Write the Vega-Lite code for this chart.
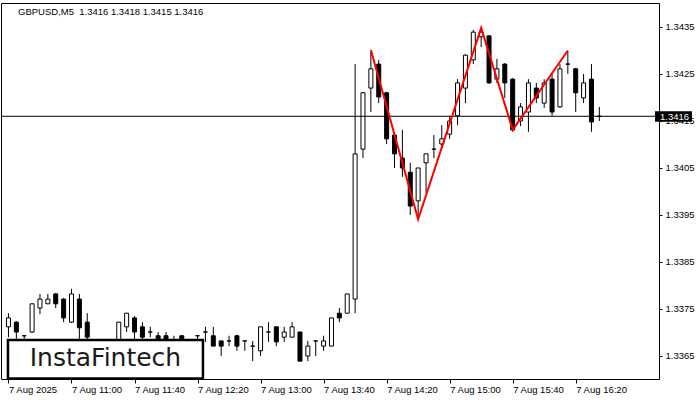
{
  "$schema": "https://vega.github.io/schema/vega-lite/v6.json",
  "width": 658,
  "height": 376,
  "autosize": "none",
  "padding": {"left": 1, "top": 3, "right": 41, "bottom": 21},
  "background": "white",
  "config": {
    "view": {"stroke": "black", "strokeWidth": 1},
    "font": "Liberation Sans"
  },
  "title": {
    "text": "GBPUSD,M5\u00a0 1.3416 1.3418 1.3415 1.3416",
    "anchor": "start",
    "frame": "group",
    "orient": "top",
    "offset": -13,
    "dx": 17,
    "fontSize": 9.5,
    "font": "Liberation Sans",
    "fontWeight": "normal",
    "color": "black"
  },
  "datasets": {
    "candles": [
      {"t": "2025-08-07T10:20:00", "o": 1.33712, "h": 1.33741, "l": 1.33690, "c": 1.33731},
      {"t": "2025-08-07T10:25:00", "o": 1.33722, "h": 1.33724, "l": 1.33684, "c": 1.33701},
      {"t": "2025-08-07T10:30:00", "o": 1.33693, "h": 1.33693, "l": 1.33680, "c": 1.33693},
      {"t": "2025-08-07T10:35:00", "o": 1.33701, "h": 1.33761, "l": 1.33699, "c": 1.33761},
      {"t": "2025-08-07T10:40:00", "o": 1.33752, "h": 1.33782, "l": 1.33739, "c": 1.33771},
      {"t": "2025-08-07T10:45:00", "o": 1.33761, "h": 1.33782, "l": 1.33761, "c": 1.33771},
      {"t": "2025-08-07T10:50:00", "o": 1.33782, "h": 1.33784, "l": 1.33752, "c": 1.33761},
      {"t": "2025-08-07T10:55:00", "o": 1.33771, "h": 1.33773, "l": 1.33722, "c": 1.33731},
      {"t": "2025-08-07T11:00:00", "o": 1.33722, "h": 1.33793, "l": 1.33720, "c": 1.33782},
      {"t": "2025-08-07T11:05:00", "o": 1.33771, "h": 1.33782, "l": 1.33665, "c": 1.33710},
      {"t": "2025-08-07T11:10:00", "o": 1.33722, "h": 1.33741, "l": 1.33670, "c": 1.33690},
      {"t": "2025-08-07T11:15:00", "o": 1.33675, "h": 1.33680, "l": 1.33655, "c": 1.33665},
      {"t": "2025-08-07T11:20:00", "o": 1.33665, "h": 1.33678, "l": 1.33650, "c": 1.33672},
      {"t": "2025-08-07T11:25:00", "o": 1.33672, "h": 1.33680, "l": 1.33660, "c": 1.33676},
      {"t": "2025-08-07T11:30:00", "o": 1.33676, "h": 1.33722, "l": 1.33670, "c": 1.33722},
      {"t": "2025-08-07T11:35:00", "o": 1.33712, "h": 1.33741, "l": 1.33701, "c": 1.33741},
      {"t": "2025-08-07T11:40:00", "o": 1.33731, "h": 1.33735, "l": 1.33675, "c": 1.33701},
      {"t": "2025-08-07T11:45:00", "o": 1.33712, "h": 1.33722, "l": 1.33675, "c": 1.33690},
      {"t": "2025-08-07T11:50:00", "o": 1.33701, "h": 1.33712, "l": 1.33690, "c": 1.33701},
      {"t": "2025-08-07T11:55:00", "o": 1.33693, "h": 1.33701, "l": 1.33670, "c": 1.33678},
      {"t": "2025-08-07T12:00:00", "o": 1.33693, "h": 1.33701, "l": 1.33668, "c": 1.33678},
      {"t": "2025-08-07T12:05:00", "o": 1.33680, "h": 1.33693, "l": 1.33665, "c": 1.33675},
      {"t": "2025-08-07T12:10:00", "o": 1.33693, "h": 1.33693, "l": 1.33670, "c": 1.33678},
      {"t": "2025-08-07T12:15:00", "o": 1.33678, "h": 1.33682, "l": 1.33665, "c": 1.33680},
      {"t": "2025-08-07T12:20:00", "o": 1.33693, "h": 1.33693, "l": 1.33675, "c": 1.33693},
      {"t": "2025-08-07T12:25:00", "o": 1.33701, "h": 1.33712, "l": 1.33680, "c": 1.33701},
      {"t": "2025-08-07T12:30:00", "o": 1.33693, "h": 1.33712, "l": 1.33671, "c": 1.33671},
      {"t": "2025-08-07T12:35:00", "o": 1.33682, "h": 1.33682, "l": 1.33650, "c": 1.33671},
      {"t": "2025-08-07T12:40:00", "o": 1.33682, "h": 1.33693, "l": 1.33671, "c": 1.33682},
      {"t": "2025-08-07T12:45:00", "o": 1.33693, "h": 1.33695, "l": 1.33661, "c": 1.33671},
      {"t": "2025-08-07T12:50:00", "o": 1.33682, "h": 1.33682, "l": 1.33661, "c": 1.33682},
      {"t": "2025-08-07T12:55:00", "o": 1.33671, "h": 1.33682, "l": 1.33639, "c": 1.33671},
      {"t": "2025-08-07T13:00:00", "o": 1.33661, "h": 1.33712, "l": 1.33650, "c": 1.33712},
      {"t": "2025-08-07T13:05:00", "o": 1.33701, "h": 1.33722, "l": 1.33680, "c": 1.33701},
      {"t": "2025-08-07T13:10:00", "o": 1.33712, "h": 1.33712, "l": 1.33671, "c": 1.33680},
      {"t": "2025-08-07T13:15:00", "o": 1.33690, "h": 1.33712, "l": 1.33680, "c": 1.33701},
      {"t": "2025-08-07T13:20:00", "o": 1.33690, "h": 1.33722, "l": 1.33690, "c": 1.33712},
      {"t": "2025-08-07T13:25:00", "o": 1.33701, "h": 1.33701, "l": 1.33639, "c": 1.33639},
      {"t": "2025-08-07T13:30:00", "o": 1.33650, "h": 1.33682, "l": 1.33639, "c": 1.33671},
      {"t": "2025-08-07T13:35:00", "o": 1.33682, "h": 1.33682, "l": 1.33650, "c": 1.33682},
      {"t": "2025-08-07T13:40:00", "o": 1.33671, "h": 1.33693, "l": 1.33661, "c": 1.33682},
      {"t": "2025-08-07T13:45:00", "o": 1.33671, "h": 1.33731, "l": 1.33671, "c": 1.33731},
      {"t": "2025-08-07T13:50:00", "o": 1.33741, "h": 1.33752, "l": 1.33722, "c": 1.33731},
      {"t": "2025-08-07T13:55:00", "o": 1.33741, "h": 1.33782, "l": 1.33741, "c": 1.33782},
      {"t": "2025-08-07T14:00:00", "o": 1.33771, "h": 1.34271, "l": 1.33741, "c": 1.34080},
      {"t": "2025-08-07T14:05:00", "o": 1.34090, "h": 1.34212, "l": 1.34071, "c": 1.34210},
      {"t": "2025-08-07T14:10:00", "o": 1.34220, "h": 1.34297, "l": 1.34169, "c": 1.34261},
      {"t": "2025-08-07T14:15:00", "o": 1.34271, "h": 1.34280, "l": 1.34188, "c": 1.34201},
      {"t": "2025-08-07T14:20:00", "o": 1.34210, "h": 1.34212, "l": 1.34101, "c": 1.34112},
      {"t": "2025-08-07T14:25:00", "o": 1.34120, "h": 1.34125, "l": 1.34050, "c": 1.34080},
      {"t": "2025-08-07T14:30:00", "o": 1.34071, "h": 1.34131, "l": 1.34031, "c": 1.34050},
      {"t": "2025-08-07T14:35:00", "o": 1.34041, "h": 1.34061, "l": 1.33950, "c": 1.33969},
      {"t": "2025-08-07T14:40:00", "o": 1.33980, "h": 1.34050, "l": 1.33945, "c": 1.34050},
      {"t": "2025-08-07T14:45:00", "o": 1.34061, "h": 1.34080, "l": 1.33997, "c": 1.34080},
      {"t": "2025-08-07T14:50:00", "o": 1.34090, "h": 1.34120, "l": 1.34071, "c": 1.34090},
      {"t": "2025-08-07T14:55:00", "o": 1.34101, "h": 1.34141, "l": 1.34090, "c": 1.34112},
      {"t": "2025-08-07T15:00:00", "o": 1.34122, "h": 1.34161, "l": 1.34112, "c": 1.34150},
      {"t": "2025-08-07T15:05:00", "o": 1.34161, "h": 1.34239, "l": 1.34141, "c": 1.34231},
      {"t": "2025-08-07T15:10:00", "o": 1.34220, "h": 1.34292, "l": 1.34188, "c": 1.34290},
      {"t": "2025-08-07T15:15:00", "o": 1.34280, "h": 1.34344, "l": 1.34271, "c": 1.34339},
      {"t": "2025-08-07T15:20:00", "o": 1.34329, "h": 1.34348, "l": 1.34307, "c": 1.34339},
      {"t": "2025-08-07T15:25:00", "o": 1.34331, "h": 1.34333, "l": 1.34229, "c": 1.34231},
      {"t": "2025-08-07T15:30:00", "o": 1.34239, "h": 1.34282, "l": 1.34231, "c": 1.34261},
      {"t": "2025-08-07T15:35:00", "o": 1.34271, "h": 1.34273, "l": 1.34199, "c": 1.34231},
      {"t": "2025-08-07T15:40:00", "o": 1.34239, "h": 1.34241, "l": 1.34127, "c": 1.34131},
      {"t": "2025-08-07T15:45:00", "o": 1.34150, "h": 1.34188, "l": 1.34139, "c": 1.34180},
      {"t": "2025-08-07T15:50:00", "o": 1.34169, "h": 1.34239, "l": 1.34127, "c": 1.34231},
      {"t": "2025-08-07T15:55:00", "o": 1.34220, "h": 1.34231, "l": 1.34188, "c": 1.34199},
      {"t": "2025-08-07T16:00:00", "o": 1.34188, "h": 1.34239, "l": 1.34178, "c": 1.34231},
      {"t": "2025-08-07T16:05:00", "o": 1.34239, "h": 1.34250, "l": 1.34161, "c": 1.34169},
      {"t": "2025-08-07T16:10:00", "o": 1.34180, "h": 1.34271, "l": 1.34178, "c": 1.34261},
      {"t": "2025-08-07T16:15:00", "o": 1.34271, "h": 1.34299, "l": 1.34250, "c": 1.34271},
      {"t": "2025-08-07T16:20:00", "o": 1.34261, "h": 1.34263, "l": 1.34169, "c": 1.34210},
      {"t": "2025-08-07T16:25:00", "o": 1.34199, "h": 1.34250, "l": 1.34188, "c": 1.34231},
      {"t": "2025-08-07T16:30:00", "o": 1.34239, "h": 1.34271, "l": 1.34127, "c": 1.34148},
      {"t": "2025-08-07T16:35:00", "o": 1.3416, "h": 1.3418, "l": 1.3415, "c": 1.3416}
    ],
    "pattern": [
      {"t": "2025-08-07T14:10:00", "p": 1.34301},
      {"t": "2025-08-07T14:40:00", "p": 1.33941},
      {"t": "2025-08-07T15:20:00", "p": 1.34348},
      {"t": "2025-08-07T15:40:00", "p": 1.34131},
      {"t": "2025-08-07T16:15:00", "p": 1.34300}
    ],
    "one": [{}]
  },
  "layer": [
    {
      "data": {"name": "candles"},
      "mark": {"type": "rule", "color": "black", "strokeWidth": 1},
      "encoding": {
        "x": {
          "field": "t",
          "type": "temporal",
          "title": null,
          "scale": {
            "domain": [
              {"year": 2025, "month": 8, "date": 7, "hours": 10, "minutes": 18, "seconds": 26, "milliseconds": 250},
              {"year": 2025, "month": 8, "date": 7, "hours": 17, "minutes": 9, "seconds": 41, "milliseconds": 250}
            ]
          },
          "axis": {
            "values": [
              {"year": 2025, "month": 8, "date": 7, "hours": 10, "minutes": 20},
              {"year": 2025, "month": 8, "date": 7, "hours": 11, "minutes": 0},
              {"year": 2025, "month": 8, "date": 7, "hours": 11, "minutes": 40},
              {"year": 2025, "month": 8, "date": 7, "hours": 12, "minutes": 20},
              {"year": 2025, "month": 8, "date": 7, "hours": 13, "minutes": 0},
              {"year": 2025, "month": 8, "date": 7, "hours": 13, "minutes": 40},
              {"year": 2025, "month": 8, "date": 7, "hours": 14, "minutes": 20},
              {"year": 2025, "month": 8, "date": 7, "hours": 15, "minutes": 0},
              {"year": 2025, "month": 8, "date": 7, "hours": 15, "minutes": 40},
              {"year": 2025, "month": 8, "date": 7, "hours": 16, "minutes": 20}
            ],
            "labelExpr": "hours(datum.value) == 10 && minutes(datum.value) == 20 ? '7 Aug 2025' : '7 Aug ' + timeFormat(datum.value, '%H:%M')",
            "labelAlign": "left",
            "labelBaseline": "top",
            "labelPadding": 1,
            "labelFont": "Liberation Sans",
            "labelFontSize": 9.5,
            "labelColor": "black",
            "labelFlush": false,
            "labelOverlap": false,
            "tickColor": "black",
            "tickSize": 4,
            "domain": false,
            "grid": false,
            "zindex": 0
          }
        },
        "y": {
          "field": "l",
          "type": "quantitative",
          "title": null,
          "scale": {"domain": [1.33601, 1.34401], "zero": false, "nice": false},
          "axis": {
            "orient": "right",
            "values": [1.3365, 1.3375, 1.3385, 1.3395, 1.3405, 1.3415, 1.3425, 1.3435],
            "format": ".4f",
            "labelFont": "Liberation Sans",
            "labelFontSize": 9.5,
            "labelColor": "black",
            "labelPadding": 3,
            "tickColor": "black",
            "tickSize": 3,
            "domain": false,
            "grid": false,
            "zindex": 0
          }
        },
        "y2": {"field": "h"}
      }
    },
    {
      "data": {"name": "candles"},
      "mark": {"type": "bar", "size": 4, "stroke": "black", "strokeWidth": 1},
      "encoding": {
        "x": {"field": "t", "type": "temporal", "title": null},
        "y": {"field": "o", "type": "quantitative", "title": null},
        "y2": {"field": "c"},
        "fill": {"condition": {"test": "datum.c >= datum.o", "value": "white"}, "value": "black"}
      }
    },
    {
      "data": {"name": "one"},
      "mark": {"type": "rule", "color": "black", "strokeWidth": 1},
      "encoding": {"y": {"datum": 1.3416, "type": "quantitative"}}
    },
    {
      "data": {"name": "pattern"},
      "mark": {"type": "line", "color": "#ff0000", "strokeWidth": 2},
      "encoding": {
        "x": {"field": "t", "type": "temporal", "title": null},
        "y": {"field": "p", "type": "quantitative", "title": null}
      }
    },
    {
      "data": {"name": "one"},
      "mark": {"type": "rect", "fill": "white", "stroke": "black", "strokeWidth": 2.5},
      "encoding": {
        "x": {"datum": {"year": 2025, "month": 8, "date": 7, "hours": 10, "minutes": 19, "seconds": 41}, "type": "temporal"},
        "x2": {"datum": {"year": 2025, "month": 8, "date": 7, "hours": 12, "minutes": 23, "seconds": 26}},
        "y": {"datum": 1.33602, "type": "quantitative"},
        "y2": {"datum": 1.33684}
      }
    },
    {
      "data": {"name": "one"},
      "mark": {"type": "text", "text": "InstaFintech", "font": "DejaVu Sans", "fontSize": 25, "color": "#1a1a1a", "align": "center", "baseline": "alphabetic"},
      "encoding": {
        "x": {"datum": {"year": 2025, "month": 8, "date": 7, "hours": 11, "minutes": 21, "seconds": 34}, "type": "temporal"},
        "y": {"datum": 1.33628, "type": "quantitative"}
      }
    },
    {
      "data": {"name": "one"},
      "mark": {"type": "rect", "fill": "black", "zindex": 2, "xOffset": 1, "x2Offset": 38, "yOffset": -5, "y2Offset": 5.5},
      "encoding": {
        "x": {"datum": {"year": 2025, "month": 8, "date": 7, "hours": 17, "minutes": 9, "seconds": 41, "milliseconds": 250}, "type": "temporal"},
        "x2": {"datum": {"year": 2025, "month": 8, "date": 7, "hours": 17, "minutes": 9, "seconds": 41, "milliseconds": 250}},
        "y": {"datum": 1.3416, "type": "quantitative"},
        "y2": {"datum": 1.3416}
      }
    },
    {
      "data": {"name": "one"},
      "mark": {"type": "text", "text": "1.3416", "color": "white", "zindex": 3, "font": "Liberation Sans", "fontSize": 9.5, "align": "left", "baseline": "middle", "dx": 6, "dy": 0.5},
      "encoding": {
        "x": {"datum": {"year": 2025, "month": 8, "date": 7, "hours": 17, "minutes": 9, "seconds": 41, "milliseconds": 250}, "type": "temporal"},
        "y": {"datum": 1.3416, "type": "quantitative"}
      }
    }
  ]
}
